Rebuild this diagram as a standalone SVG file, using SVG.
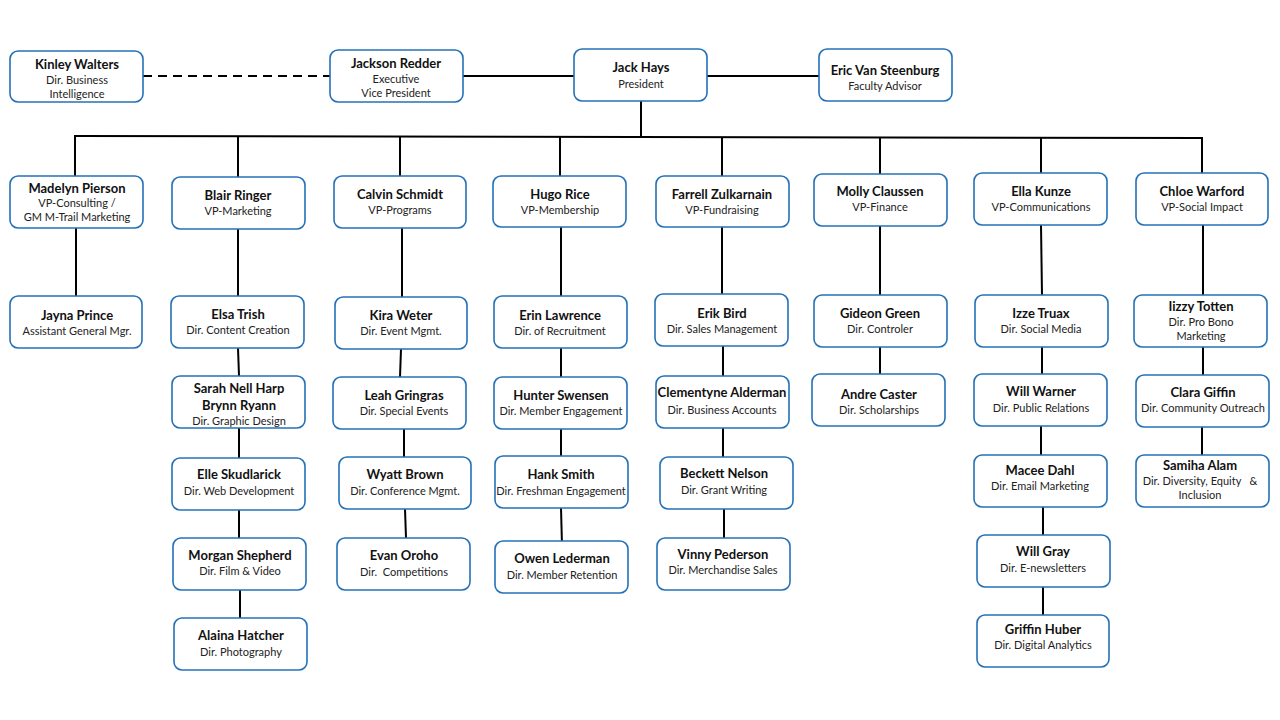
<svg xmlns="http://www.w3.org/2000/svg" width="1280" height="720" viewBox="0 0 1280 720">
<style>
.box{fill:#fff;stroke:#2471b8;stroke-width:1.6}
.n{font-family:Lato,"Liberation Sans",sans-serif;font-weight:bold;font-size:13px;fill:#111;text-anchor:middle}
.t{font-family:Lato,"Liberation Sans",sans-serif;font-size:11px;fill:#222;text-anchor:middle}
.ln{stroke:#000;stroke-width:2;fill:none}
.dash{stroke:#000;stroke-width:2;fill:none;stroke-dasharray:9 6}
</style>
<rect width="1280" height="720" fill="#fff"/>
<g id="connectors">
<line class="dash" x1="143" y1="76" x2="330" y2="76"/>
<line class="ln" x1="463" y1="76" x2="574" y2="76"/>
<line class="ln" x1="707" y1="76" x2="819" y2="76"/>
<line class="ln" x1="641" y1="101" x2="641" y2="137"/>
<line class="ln" x1="74" y1="136" x2="1203" y2="138"/>
<line class="ln" x1="75" y1="136" x2="75" y2="176"/>
<line class="ln" x1="238" y1="136" x2="238" y2="177"/>
<line class="ln" x1="400" y1="136" x2="400" y2="176"/>
<line class="ln" x1="560" y1="137" x2="560" y2="176"/>
<line class="ln" x1="722" y1="137" x2="722" y2="176"/>
<line class="ln" x1="880" y1="137" x2="880" y2="174"/>
<line class="ln" x1="1041" y1="138" x2="1041" y2="173"/>
<line class="ln" x1="1202" y1="138" x2="1202" y2="173"/>
<line class="ln" x1="76" y1="228" x2="76" y2="296"/>
<line class="ln" x1="238" y1="229" x2="238" y2="296"/>
<line class="ln" x1="238" y1="348" x2="239" y2="376"/>
<line class="ln" x1="239" y1="428" x2="239" y2="458"/>
<line class="ln" x1="239" y1="510" x2="239" y2="538"/>
<line class="ln" x1="240" y1="590" x2="240" y2="618"/>
<line class="ln" x1="402" y1="228" x2="402" y2="297"/>
<line class="ln" x1="401" y1="349" x2="400" y2="377"/>
<line class="ln" x1="404" y1="429" x2="404" y2="457"/>
<line class="ln" x1="405" y1="509" x2="406" y2="538"/>
<line class="ln" x1="561" y1="227" x2="561" y2="296"/>
<line class="ln" x1="561" y1="348" x2="561" y2="377"/>
<line class="ln" x1="561" y1="429" x2="561" y2="456"/>
<line class="ln" x1="561" y1="508" x2="562" y2="545"/>
<line class="ln" x1="722" y1="227" x2="722" y2="294"/>
<line class="ln" x1="723" y1="346" x2="723" y2="376"/>
<line class="ln" x1="723" y1="428" x2="723" y2="457"/>
<line class="ln" x1="724" y1="509" x2="724" y2="538"/>
<line class="ln" x1="880" y1="226" x2="880" y2="295"/>
<line class="ln" x1="880" y1="347" x2="880" y2="374"/>
<line class="ln" x1="1041" y1="225" x2="1042" y2="295"/>
<line class="ln" x1="1042" y1="347" x2="1042" y2="374"/>
<line class="ln" x1="1041" y1="426" x2="1041" y2="455"/>
<line class="ln" x1="1043" y1="507" x2="1043" y2="535"/>
<line class="ln" x1="1043" y1="587" x2="1043" y2="615"/>
<line class="ln" x1="1203" y1="225" x2="1203" y2="295"/>
<line class="ln" x1="1203" y1="347" x2="1203" y2="375"/>
<line class="ln" x1="1202" y1="427" x2="1202" y2="455"/>
</g>
<g id="kinley"><rect class="box" x="10" y="51" width="133" height="51" rx="8"/><text class="n" x="77" y="69">Kinley Walters</text><text class="t" x="77" y="84">Dir. Business</text><text class="t" x="77" y="98">Intelligence</text></g>
<g id="jackson"><rect class="box" x="330" y="50" width="133" height="52" rx="8"/><text class="n" x="396" y="68">Jackson Redder</text><text class="t" x="396" y="83">Executive</text><text class="t" x="396" y="97">Vice President</text></g>
<g id="jack"><rect class="box" x="574" y="49" width="133" height="52" rx="8"/><text class="n" x="641" y="72">Jack Hays</text><text class="t" x="641" y="88">President</text></g>
<g id="eric"><rect class="box" x="819" y="49" width="133" height="52" rx="8"/><text class="n" x="885" y="75">Eric Van Steenburg</text><text class="t" x="885" y="90">Faculty Advisor</text></g>

<g id="madelyn"><rect class="box" x="10" y="176" width="133" height="52" rx="8"/><text class="n" x="77" y="193">Madelyn Pierson</text><text class="t" x="77" y="207">VP-Consulting /</text><text class="t" x="77" y="221">GM M-Trail Marketing</text></g>
<g id="blair"><rect class="box" x="172" y="177" width="133" height="52" rx="8"/><text class="n" x="238" y="200">Blair Ringer</text><text class="t" x="238" y="215">VP-Marketing</text></g>
<g id="calvin"><rect class="box" x="334" y="176" width="132" height="52" rx="8"/><text class="n" x="400" y="199">Calvin Schmidt</text><text class="t" x="400" y="214">VP-Programs</text></g>
<g id="hugo"><rect class="box" x="493" y="176" width="133" height="51" rx="8"/><text class="n" x="560" y="199">Hugo Rice</text><text class="t" x="560" y="214">VP-Membership</text></g>
<g id="farrell"><rect class="box" x="656" y="176" width="133" height="51" rx="8"/><text class="n" x="722" y="199">Farrell Zulkarnain</text><text class="t" x="722" y="214">VP-Fundraising</text></g>
<g id="molly"><rect class="box" x="814" y="174" width="133" height="52" rx="8"/><text class="n" x="880" y="196">Molly Claussen</text><text class="t" x="880" y="211">VP-Finance</text></g>
<g id="ella"><rect class="box" x="974" y="173" width="133" height="52" rx="8"/><text class="n" x="1041" y="196">Ella Kunze</text><text class="t" x="1041" y="211">VP-Communications</text></g>
<g id="chloe"><rect class="box" x="1136" y="173" width="132" height="52" rx="8"/><text class="n" x="1202" y="196">Chloe Warford</text><text class="t" x="1202" y="211">VP-Social Impact</text></g>

<g id="jayna"><rect class="box" x="10" y="296" width="132" height="52" rx="8"/><text class="n" x="77" y="320">Jayna Prince</text><text class="t" x="77" y="335">Assistant General Mgr.</text></g>
<g id="elsa"><rect class="box" x="171" y="296" width="133" height="52" rx="8"/><text class="n" x="238" y="319">Elsa Trish</text><text class="t" x="238" y="334">Dir. Content Creation</text></g>
<g id="kira"><rect class="box" x="335" y="297" width="132" height="52" rx="8"/><text class="n" x="401" y="320">Kira Weter</text><text class="t" x="401" y="335">Dir. Event Mgmt.</text></g>
<g id="erin"><rect class="box" x="494" y="296" width="133" height="52" rx="8"/><text class="n" x="560" y="320">Erin Lawrence</text><text class="t" x="560" y="335">Dir. of Recruitment</text></g>
<g id="erik"><rect class="box" x="655" y="294" width="133" height="52" rx="8"/><text class="n" x="722" y="318">Erik Bird</text><text class="t" x="722" y="333">Dir. Sales Management</text></g>
<g id="gideon"><rect class="box" x="814" y="295" width="133" height="52" rx="8"/><text class="n" x="880" y="318">Gideon Green</text><text class="t" x="880" y="333">Dir. Controler</text></g>
<g id="izze"><rect class="box" x="975" y="295" width="133" height="52" rx="8"/><text class="n" x="1041" y="318">Izze Truax</text><text class="t" x="1041" y="333">Dir. Social Media</text></g>
<g id="iizzy"><rect class="box" x="1134" y="295" width="133" height="52" rx="8"/><text class="n" x="1201" y="311">Iizzy Totten</text><text class="t" x="1201" y="326">Dir. Pro Bono</text><text class="t" x="1201" y="340">Marketing</text></g>

<g id="sarah"><rect class="box" x="172" y="376" width="133" height="52" rx="8"/><text class="n" x="239" y="393">Sarah Nell Harp</text><text class="n" x="239" y="410">Brynn Ryann</text><text class="t" x="239" y="425">Dir. Graphic Design</text></g>
<g id="leah"><rect class="box" x="333" y="377" width="133" height="52" rx="8"/><text class="n" x="404" y="400">Leah Gringras</text><text class="t" x="404" y="415">Dir. Special Events</text></g>
<g id="hunter"><rect class="box" x="494" y="377" width="133" height="52" rx="8"/><text class="n" x="561" y="400">Hunter Swensen</text><text class="t" x="561" y="415">Dir. Member Engagement</text></g>
<g id="clementyne"><rect class="box" x="656" y="376" width="133" height="52" rx="8"/><text class="n" x="722" y="397">Clementyne Alderman</text><text class="t" x="722" y="414">Dir. Business Accounts</text></g>
<g id="andre"><rect class="box" x="812" y="374" width="133" height="52" rx="8"/><text class="n" x="879" y="399">Andre Caster</text><text class="t" x="879" y="414">Dir. Scholarships</text></g>
<g id="willwarner"><rect class="box" x="974" y="374" width="133" height="52" rx="8"/><text class="n" x="1041" y="396">Will Warner</text><text class="t" x="1041" y="412">Dir. Public Relations</text></g>
<g id="clara"><rect class="box" x="1136" y="375" width="133" height="52" rx="8"/><text class="n" x="1203" y="397">Clara Giffin</text><text class="t" x="1203" y="412">Dir. Community Outreach</text></g>

<g id="elle"><rect class="box" x="172" y="458" width="133" height="52" rx="8"/><text class="n" x="239" y="479">Elle Skudlarick</text><text class="t" x="239" y="495">Dir. Web Development</text></g>
<g id="wyatt"><rect class="box" x="339" y="457" width="132" height="52" rx="8"/><text class="n" x="405" y="479">Wyatt Brown</text><text class="t" x="405" y="495">Dir. Conference Mgmt.</text></g>
<g id="hank"><rect class="box" x="495" y="456" width="133" height="52" rx="8"/><text class="n" x="561" y="479">Hank Smith</text><text class="t" x="561" y="495">Dir. Freshman Engagement</text></g>
<g id="beckett"><rect class="box" x="660" y="457" width="133" height="52" rx="8"/><text class="n" x="724" y="478">Beckett Nelson</text><text class="t" x="724" y="494">Dir. Grant Writing</text></g>
<g id="macee"><rect class="box" x="974" y="455" width="133" height="52" rx="8"/><text class="n" x="1040" y="475">Macee Dahl</text><text class="t" x="1040" y="490">Dir. Email Marketing</text></g>
<g id="samiha"><rect class="box" x="1136" y="455" width="133" height="52" rx="8"/><text class="n" x="1200" y="470">Samiha Alam</text><text class="t" x="1200" y="485" xml:space="preserve">Dir. Diversity, Equity   &amp;</text><text class="t" x="1200" y="499">Inclusion</text></g>

<g id="morgan"><rect class="box" x="173" y="538" width="133" height="52" rx="8"/><text class="n" x="240" y="560">Morgan Shepherd</text><text class="t" x="240" y="575">Dir. Film &amp; Video</text></g>
<g id="evan"><rect class="box" x="337" y="538" width="133" height="52" rx="8"/><text class="n" x="404" y="560">Evan Oroho</text><text class="t" x="404" y="576" xml:space="preserve">Dir.  Competitions</text></g>
<g id="owen"><rect class="box" x="495" y="541" width="133" height="52" rx="8"/><text class="n" x="562" y="563">Owen Lederman</text><text class="t" x="562" y="579">Dir. Member Retention</text></g>
<g id="vinny"><rect class="box" x="657" y="538" width="133" height="52" rx="8"/><text class="n" x="723" y="559">Vinny Pederson</text><text class="t" x="723" y="574">Dir. Merchandise Sales</text></g>
<g id="willgray"><rect class="box" x="977" y="535" width="133" height="52" rx="8"/><text class="n" x="1043" y="556">Will Gray</text><text class="t" x="1043" y="572">Dir. E-newsletters</text></g>

<g id="alaina"><rect class="box" x="174" y="618" width="133" height="52" rx="8"/><text class="n" x="241" y="640">Alaina Hatcher</text><text class="t" x="241" y="656">Dir. Photography</text></g>
<g id="griffin"><rect class="box" x="977" y="615" width="132" height="52" rx="8"/><text class="n" x="1043" y="634">Griffin Huber</text><text class="t" x="1043" y="649">Dir. Digital Analytics</text></g>
</svg>
